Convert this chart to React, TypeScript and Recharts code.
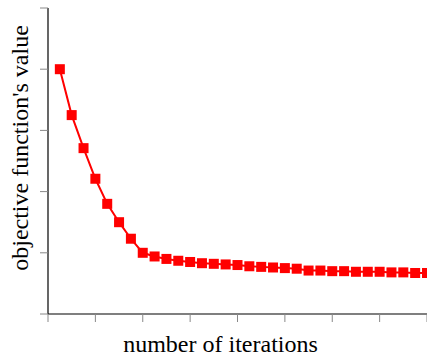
import { LineChart, Line, XAxis, YAxis, Label } from 'recharts';

const iterations = Array.from({ length: 32 }, (_, i) => i + 1);
const objectiveValues = [
  4.0, 3.25, 2.71, 2.21, 1.8, 1.5, 1.23, 1.0, 0.94, 0.9, 0.87, 0.85, 0.83, 0.82, 0.81, 0.8,
  0.78, 0.77, 0.76, 0.75, 0.74, 0.71, 0.71, 0.7, 0.7, 0.69, 0.69, 0.69, 0.68, 0.68, 0.67, 0.67,
];
const xTicks = [0, 4, 8, 12, 16, 20, 24, 28, 32];
const yTicks = [0, 1, 2, 3, 4, 5];

const data = iterations.map((it, i) => ({ it, value: objectiveValues[i] }));

const SquareDot = (props: any) => {
  const { cx, cy } = props;
  if (cx == null || cy == null) return null;
  return <rect x={cx - 5} y={cy - 5} width={10} height={10} fill="#ff0000" />;
};

const NoTick = () => <g />;

const serif = '"Liberation Serif", "Times New Roman", serif';

export default function App() {
  return (
    <div style={{ position: 'absolute', left: 0, top: 0 }}>
      <LineChart width={427} height={356} data={data} margin={{ top: 8, right: 0, bottom: 0, left: 8 }}>
        <XAxis
          dataKey="it"
          type="number"
          domain={[0, 32]}
          ticks={xTicks}
          tick={NoTick}
          tickSize={8}
          height={42}
          axisLine={{ stroke: '#000', strokeWidth: 1.2 }}
          tickLine={{ stroke: '#888' }}
        >
          <Label
            value="number of iterations"
            position="insideBottom"
            offset={4}
            dx={-17}
            fontSize={24}
            fontFamily={serif}
            fill="#000"
          />
        </XAxis>
        <YAxis
          type="number"
          domain={[0, 5]}
          ticks={yTicks}
          tick={NoTick}
          tickSize={8}
          width={40}
          axisLine={{ stroke: '#000', strokeWidth: 1.2 }}
          tickLine={{ stroke: '#888' }}
        >
          <Label
            value="objective function's value"
            angle={-90}
            position="center"
            dx={-8.5}
            dy={-13}
            fontSize={24}
            fontFamily={serif}
            fill="#000"
          />
        </YAxis>
        <Line
          type="linear"
          dataKey="value"
          stroke="#ff0000"
          strokeWidth={2}
          dot={<SquareDot />}
          activeDot={false}
          isAnimationActive={false}
        />
      </LineChart>
    </div>
  );
}
